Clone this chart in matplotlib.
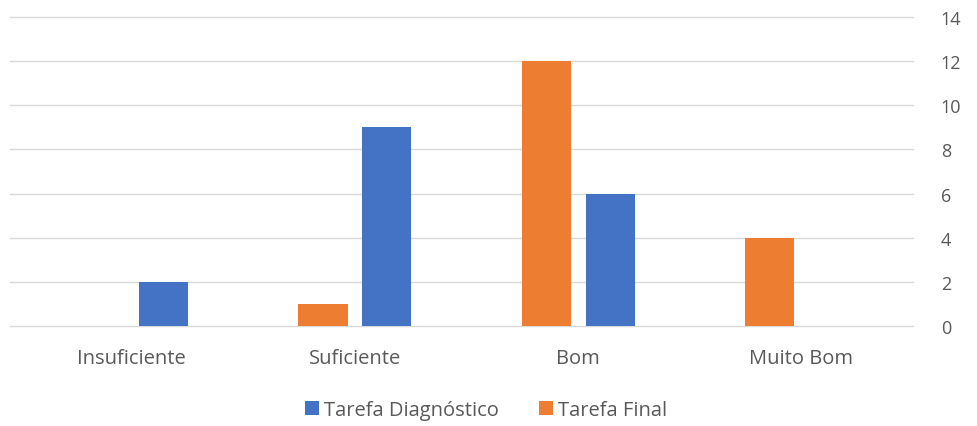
import matplotlib
matplotlib.use("Agg")
import matplotlib.pyplot as plt
import numpy as np

categories = ["Insuficiente", "Suficiente", "Bom", "Muito Bom"]
tarefa_diagnostico = [2, 9, 6, 0]
tarefa_final = [0, 1, 12, 4]
y_ticks = [0, 2, 4, 6, 8, 10, 12, 14]

plt.rcParams["font.family"] = ["Open Sans", "DejaVu Sans"]

fig = plt.figure(figsize=(9.77, 4.27), dpi=100)
ax = fig.add_axes([10 / 977, 100 / 427, 903 / 977, 309 / 427])

x = np.arange(len(categories))
width = 0.22
offset = 0.143
ax.bar(x + offset, tarefa_diagnostico, width, color="#4472C4", label="Tarefa Diagnóstico", zorder=3)
ax.bar(x - offset, tarefa_final, width, color="#ED7D31", label="Tarefa Final", zorder=3)

ax.set_xlim(-0.545, 3.5)
ax.set_ylim(0, 14)
ax.set_yticks(y_ticks)
ax.yaxis.tick_right()
ax.grid(axis="y", color="#D9D9D9", linewidth=1, zorder=0)
for line in ax.get_ygridlines():
    line.set_clip_on(False)
for s in ax.spines.values():
    s.set_visible(False)
ax.tick_params(axis="y", length=0, pad=20, labelsize=13, labelcolor="#595959")
ax.tick_params(axis="x", length=0, pad=16, labelsize=14.5, labelcolor="#595959")
ax.set_xticks(x)
ax.set_xticklabels(categories)

fig.legend(loc="center", bbox_to_anchor=(486 / 977, 1 - 411 / 427), ncol=2, frameon=False,
           fontsize=14.5, labelcolor="#595959", handlelength=0.7, handleheight=0.7,
           handletextpad=0.25, columnspacing=2.0)

fig.savefig("out.png", dpi=100)
